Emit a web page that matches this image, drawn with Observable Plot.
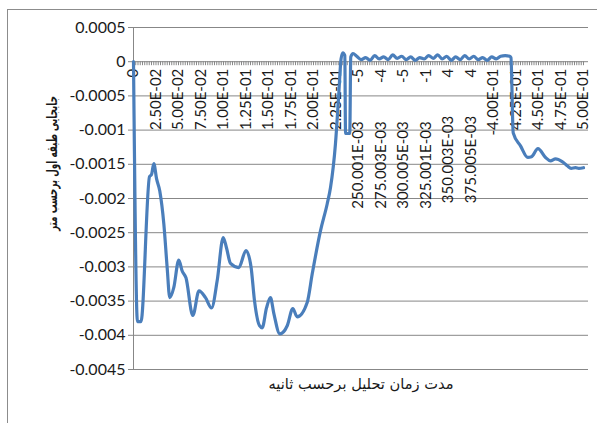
<!DOCTYPE html>
<html><head><meta charset="utf-8">
<script src="https://cdn.jsdelivr.net/npm/d3@7"></script>
<script src="https://cdn.jsdelivr.net/npm/@observablehq/plot@0.6"></script>
<style>body{margin:0;background:#fff} svg{display:block}</style>
</head><body><div id="chart"></div>
<script>
const G = "\u00a0".repeat(10);
const times = [0, 0.0044, 0.0083, 0.0178, 0.02, 0.0226, 0.0256, 0.0292, 0.0337, 0.0374, 0.0403, 0.0448, 0.0503, 0.0541, 0.0583, 0.0659, 0.0728, 0.08, 0.0867, 0.093, 0.0997, 0.1033, 0.1078, 0.117, 0.125, 0.1306, 0.1344, 0.14, 0.143, 0.1478, 0.1522, 0.1559, 0.1626, 0.1708, 0.177, 0.1819, 0.193, 0.1986, 0.2078, 0.2152, 0.2189, 0.2244, 0.2281, 0.2306, 0.2326, 0.2348, 0.2356, 0.2403, 0.2414, 0.2439,
  0.248, 0.253, 0.258, 0.263, 0.268, 0.273, 0.278, 0.283, 0.288, 0.293, 0.298, 0.303, 0.308, 0.313, 0.318, 0.323, 0.328, 0.333, 0.338, 0.343, 0.348, 0.353, 0.358, 0.363, 0.368, 0.373, 0.378, 0.383, 0.388, 0.393, 0.398, 0.403, 0.408, 0.413, 0.418,
  0.4194, 0.4219, 0.43, 0.4381, 0.4422, 0.4494, 0.4578, 0.4633, 0.4689, 0.4763, 0.4819, 0.4863, 0.4911, 0.4948, 0.5];
const displacement = [0, -0.0038, -0.0038, -0.00168, -0.00165, -0.00149, -0.00171, -0.00189, -0.00237, -0.00301, -0.00345, -0.0033, -0.0029, -0.00306, -0.00316, -0.00371, -0.00335, -0.00345, -0.0036, -0.0032, -0.00257, -0.00272, -0.00295, -0.00301, -0.00276, -0.003, -0.00349, -0.00386, -0.00389, -0.0036, -0.00345, -0.00368, -0.00398, -0.00386, -0.00361, -0.00373, -0.00352, -0.0031, -0.00247, -0.00208, -0.00184, -0.0012, -0.00047, 0.00004, 0.00013, 0.00009, -0.00105, -0.00105, 0.00007, 0.00012,
  0.00008, 0.00003, 0.00006, 0.00002, 0.00009, 0.00004, 0.00007, 0.00003, 0.0001, 0.00005, 0.00008, 0.00003, 0.00007, 0.00002, 0.00006, 0.00004, 0.00009, 0.00005, 0.0001, 0.00004, 0.00008, 0.00002, 0.00007, 0.00003, 0.00009, 0.00004, 0.00008, 0.00003, 0.00006, 0.00002, 0.00007, 0.00004, 0.00008, 0.00009, 0.00008,
  0.00006, -0.00104, -0.00123, -0.0014, -0.00139, -0.00127, -0.0014, -0.00145, -0.00142, -0.00146, -0.00152, -0.00156, -0.00155, -0.00156, -0.00155];
const yTicks = [0.0005, 0, -0.0005, -0.001, -0.0015, -0.002, -0.0025, -0.003, -0.0035, -0.004, -0.0045];
const xLabelTimes = [0, 0.025, 0.05, 0.075, 0.1, 0.125, 0.15, 0.175, 0.2, 0.225, 0.25, 0.275, 0.3, 0.325, 0.35, 0.375, 0.4, 0.425, 0.45, 0.475, 0.5];
const xLabels = ["0", "2.50E-02", "5.00E-02", "7.50E-02", "1.00E-01", "1.25E-01", "1.50E-01", "1.75E-01", "2.00E-01", "2.25E-01",
  "250.001E-03" + G + "-5", "275.003E-03" + G + "-4", "300.005E-03" + G + "-5", "325.001E-03" + G + "-1", "350.003E-03" + G + "4", "375.005E-03" + G + "4",
  "-4.00E-01", "4.25E-01", "4.50E-01", "4.75E-01", "5.00E-01"];
const xTitle = "مدت زمان تحلیل برحسب ثانیه";
const yTitle = "جابجایی طبقه اول برحسب متر";
const categoryTicks = d3.range(0, 201).map(i => i * 0.0025);

const data = times.map((t, i) => ({t, v: displacement[i]}));
const grid = "#878787";
const chart = Plot.plot({
  width: 597, height: 423, marginLeft: 133, marginRight: 9, marginTop: 27, marginBottom: 54,
  style: {fontFamily: "Lato, sans-serif", fontSize: "14px", color: "#1a1a1a", background: "#fff"},
  x: {domain: [0, 0.50556], axis: null},
  y: {domain: [-0.0045, 0.0005]},
  marks: [
    Plot.ruleY(yTicks, {stroke: grid, strokeWidth: 1}),
    Plot.ruleX([0], {stroke: grid}),
    Plot.axisY({ticks: yTicks, tickSize: 5, tickPadding: 3, tickFormat: d => String(d), stroke: grid, fontSize: 16, label: null}),
    Plot.ruleX(categoryTicks, {x: d => d, y1: 0, y2: 0, insetBottom: -4, stroke: grid}),
    Plot.text(xLabelTimes, {x: d => d, y: 0, text: (d, i) => xLabels[i], rotate: -90, textAnchor: "end", dy: 7, fontSize: 15}),
    Plot.line(data, {x: "t", y: "v", stroke: "#4a7ebb", strokeWidth: 3.2, curve: "monotone-x"}),
    Plot.text([yTitle], {frameAnchor: "left", textAnchor: "middle", rotate: -90, dx: -81, dy: -35, fontWeight: "bold", fontFamily: "DejaVu Sans", fontSize: 14}),
    Plot.text([xTitle], {frameAnchor: "bottom", dy: 19, fontFamily: "DejaVu Sans", fontSize: 15})
  ]
});
const svg = d3.select(chart);
svg.selectAll("text").filter(function() { return this.textContent === yTitle; })
  .attr("textLength", 135).attr("lengthAdjust", "spacingAndGlyphs");
svg.selectAll("text").filter(function() { return this.textContent === xTitle; })
  .attr("textLength", 185).attr("lengthAdjust", "spacingAndGlyphs");
svg.insert("rect", ":first-child")
  .attr("x", 7.5).attr("y", 9.5).attr("width", 620).attr("height", 440)
  .attr("fill", "none").attr("stroke", "#8c8c8c");
document.getElementById("chart").appendChild(chart);
</script></body></html>
